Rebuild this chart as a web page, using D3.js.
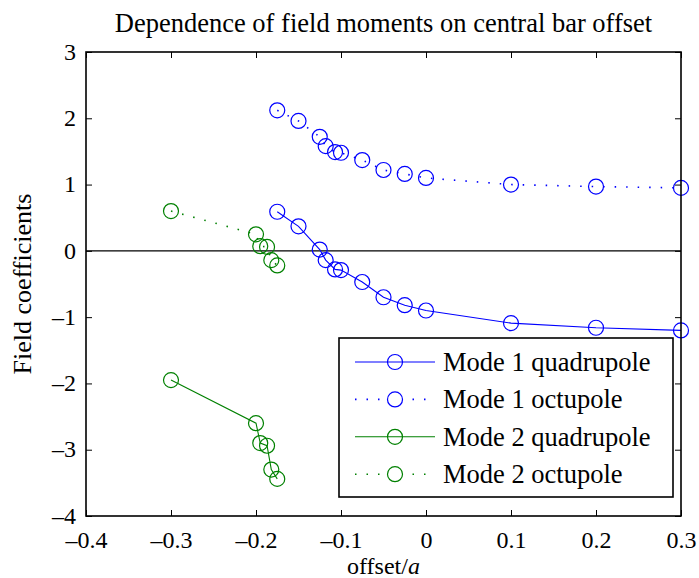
<!DOCTYPE html>
<html>
<head>
<meta charset="utf-8">
<script src="https://cdn.jsdelivr.net/npm/d3@7"></script>
<style>
  body { margin: 0; background: #fff; }
  svg { display: block; }
  text { font-family: "Times New Roman", Times, "Liberation Serif", "DejaVu Serif", serif; fill: #000; }
</style>
</head>
<body>
<svg class="chart"></svg>
<script>
// offsets (x) and field coefficients
const mode1X = [-0.175, -0.15, -0.125, -0.118, -0.107, -0.1, -0.075, -0.05, -0.025, 0, 0.1, 0.2, 0.3];
const mode1Quad = [0.59, 0.37, 0.02, -0.14, -0.28, -0.29, -0.47, -0.70, -0.82, -0.90, -1.09, -1.16, -1.20];
const mode1Oct = [2.12, 1.96, 1.72, 1.58, 1.49, 1.48, 1.37, 1.22, 1.16, 1.10, 1.00, 0.97, 0.95];

const mode2X = [-0.3, -0.2, -0.195, -0.187, -0.182, -0.175];
const mode2Quad = [-1.95, -2.60, -2.90, -2.94, -3.30, -3.44];
const mode2Oct = [0.60, 0.25, 0.07, 0.06, -0.14, -0.22];

const xTicks = [-0.4, -0.3, -0.2, -0.1, 0, 0.1, 0.2, 0.3];
const yTicks = [-4, -3, -2, -1, 0, 1, 2, 3];

const seriesNames = ['Mode 1 quadrupole', 'Mode 1 octupole', 'Mode 2 quadrupole', 'Mode 2 octupole'];

const serif = '"Times New Roman", Times, "Liberation Serif", "DejaVu Serif", serif';

let margin = {top: 52, right: 18, bottom: 62, left: 86}
let outerWidth = 699,
    outerHeight = 578,
    width = outerWidth - margin.left - margin.right,
    height = outerHeight - margin.top - margin.bottom,
    radius = 7.5;

const blue = '#0000ff', green = '#008000';

let series = [
    {name: seriesNames[0], xs: mode1X, ys: mode1Quad, color: blue, dash: null},
    {name: seriesNames[1], xs: mode1X, ys: mode1Oct, color: blue, dash: '1.5,10'},
    {name: seriesNames[2], xs: mode2X, ys: mode2Quad, color: green, dash: null},
    {name: seriesNames[3], xs: mode2X, ys: mode2Oct, color: green, dash: '1.5,10'}
];

let x = d3.scaleLinear().domain([-0.4, 0.3]).range([0, width])
let y = d3.scaleLinear().domain([-4, 3]).range([height, 0])

let chart = d3.select('.chart')
    .attr('width', outerWidth)
    .attr('height', outerHeight)

let g = chart.append('g').attr('transform', `translate(${margin.left},${margin.top})`)

let fmt = (d) => d < 0 ? '\u2013' + d3.format('')(Math.abs(d)) : d3.format('')(d)

// axes, ticks pointing inward on all four sides
let xAxis = g.append('g').attr('transform', `translate(0,${height})`)
    .call(d3.axisBottom(x).tickValues(xTicks).tickSize(-6).tickPadding(15).tickFormat(fmt))
let xTop = g.append('g')
    .call(d3.axisTop(x).tickValues(xTicks).tickSize(-6).tickFormat(''))
let yAxis = g.append('g')
    .call(d3.axisLeft(y).tickValues(yTicks).tickSize(-6).tickPadding(10).tickFormat(fmt))
let yRight = g.append('g').attr('transform', `translate(${width},0)`)
    .call(d3.axisRight(y).tickValues(yTicks).tickSize(-6).tickFormat(''))

g.selectAll('.domain').remove()
g.selectAll('g').attr('font-family', null)
g.selectAll('.tick line').attr('stroke', '#000').attr('stroke-width', 1)
g.selectAll('.tick text')
    .style('font-family', serif)
    .style('font-size', '24px')
    .attr('fill', '#000')
yAxis.selectAll('.tick text').attr('dy', '0.3em')

// zero line
g.append('line')
    .attr('x1', 0).attr('x2', width)
    .attr('y1', y(0)).attr('y2', y(0))
    .attr('stroke', '#000').attr('stroke-width', 1.2)

let line = d3.line().x((d) => x(d[0])).y((d) => y(d[1]))

series.forEach((s) => {
    let pts = s.xs.map((v, i) => [v, s.ys[i]])
    g.append('path')
        .datum(pts)
        .attr('d', line)
        .attr('fill', 'none')
        .attr('stroke', s.color)
        .attr('stroke-width', s.dash ? 1.6 : 1.1)
        .attr('stroke-dasharray', s.dash)
    g.selectAll(null)
        .data(pts)
      .enter().append('circle')
        .attr('cx', (d) => x(d[0]))
        .attr('cy', (d) => y(d[1]))
        .attr('r', radius)
        .attr('fill', 'none')
        .attr('stroke', s.color)
        .attr('stroke-width', 1.2)
})

// frame
g.append('rect')
    .attr('width', width).attr('height', height)
    .attr('fill', 'none').attr('stroke', '#000').attr('stroke-width', 1.6)

// legend
let legend = chart.append('g').attr('transform', 'translate(339,338)')
legend.append('rect')
    .attr('width', 334).attr('height', 159)
    .attr('fill', '#fff').attr('stroke', '#000').attr('stroke-width', 1.6)

series.forEach((s, i) => {
    let row = legend.append('g').attr('transform', `translate(0,${24 + i * 37.4})`)
    row.append('line')
        .attr('x1', 16).attr('x2', 96)
        .attr('stroke', s.color)
        .attr('stroke-width', s.dash ? 1.6 : 1.1)
        .attr('stroke-dasharray', s.dash)
    row.append('circle')
        .attr('cx', 56).attr('r', radius)
        .attr('fill', s.dash ? '#fff' : 'none')
        .attr('stroke', s.color).attr('stroke-width', 1.2)
    row.append('text')
        .attr('x', 104).attr('dy', '0.33em')
        .style('font-size', '26.5px')
        .text(s.name)
})

// titles
chart.append('text')
    .attr('x', margin.left + width / 2).attr('y', 32)
    .attr('text-anchor', 'middle')
    .style('font-size', '26.5px')
    .text('Dependence of field moments on central bar offset')

let xl = chart.append('text')
    .attr('x', margin.left + width / 2).attr('y', 574)
    .attr('text-anchor', 'middle')
    .style('font-size', '24px')
xl.append('tspan').text('offset/')
xl.append('tspan').style('font-style', 'italic').text('a')

chart.append('text')
    .attr('transform', `translate(31,${margin.top + height / 2}) rotate(-90)`)
    .attr('text-anchor', 'middle')
    .style('font-size', '26px')
    .text('Field coefficients')
</script>
</body>
</html>
